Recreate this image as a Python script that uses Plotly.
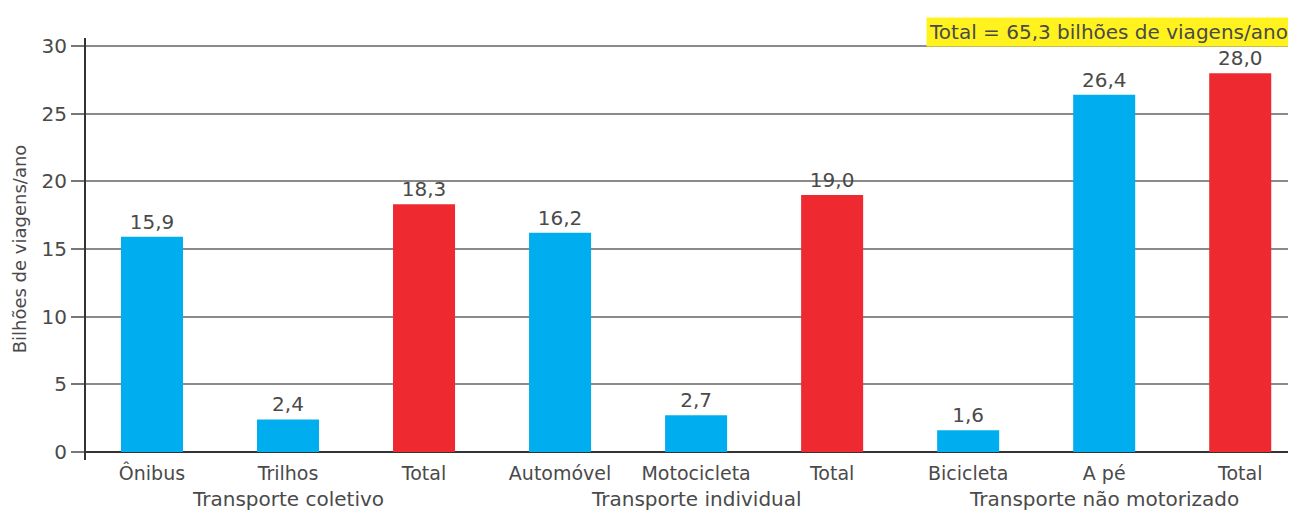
import plotly.graph_objects as go

categories = ["Ônibus", "Trilhos", "Total", "Automóvel", "Motocicleta", "Total",
              "Bicicleta", "A pé", "Total"]
values = [15.9, 2.4, 18.3, 16.2, 2.7, 19.0, 1.6, 26.4, 28.0]
is_total = [False, False, True, False, False, True, False, False, True]
groups = ["Transporte coletivo", "Transporte individual", "Transporte não motorizado"]
group_centers = [1, 4, 7]
y_ticks = [0, 5, 10, 15, 20, 25, 30]
total_note = "Total = 65,3 bilhões de viagens/ano"

BLUE = "#00aeef"
RED = "#ee2a30"
TXT = "#4a4a4a"
FONT = "DejaVu Sans"

xs = list(range(len(categories)))
colors = [RED if t else BLUE for t in is_total]

fig = go.Figure()
fig.add_trace(go.Bar(
    x=xs, y=values, marker=dict(color=colors, line=dict(width=0)),
    width=0.456,
    text=[f"{v:.1f}".replace(".", ",") for v in values],
    textposition="outside", cliponaxis=False,
    textfont=dict(family=FONT, size=20, color=TXT),
    hoverinfo="skip",
))

for g, c in zip(groups, group_centers):
    fig.add_annotation(x=c, y=0, xref="x", yref="paper", yshift=-39,
                       text=g, showarrow=False, yanchor="middle",
                       font=dict(family=FONT, size=20, color=TXT))

fig.add_annotation(x=(926 - 86) / 1210, y=1, xref="paper", yref="paper",
                   xanchor="left", yanchor="middle", yshift=6,
                   text=total_note, showarrow=False, bgcolor="#fff21f",
                   borderpad=2, align="left",
                   font=dict(family=FONT, size=20, color=TXT))

fig.update_layout(
    width=1288, height=503,
    margin=dict(l=78, r=0, t=30, b=51, autoexpand=False),
    plot_bgcolor="white", paper_bgcolor="white",
    showlegend=False,
    font=dict(family=FONT, color=TXT),
    xaxis=dict(range=[-0.485, 8.41], tickvals=xs, ticktext=categories,
               showgrid=False, zeroline=False, showline=False, ticks="",
               automargin=False,
               tickfont=dict(family=FONT, size=19, color=TXT)),
    yaxis=dict(range=[-0.6, 30.6], tickvals=y_ticks, automargin=False,
               showgrid=True, gridcolor="#8a8a8a", gridwidth=1.5,
               zeroline=True, zerolinecolor="#333333", zerolinewidth=2,
               showline=True, linecolor="#333333", linewidth=2,
               ticks="outside", ticklen=13, tickcolor="#777777", tickwidth=1.5,
               tickfont=dict(family=FONT, size=20, color=TXT),
               title=dict(text="Bilhões de viagens/ano", standoff=10,
                          font=dict(family=FONT, size=18, color=TXT))),
)

fig.write_html("out.html")
